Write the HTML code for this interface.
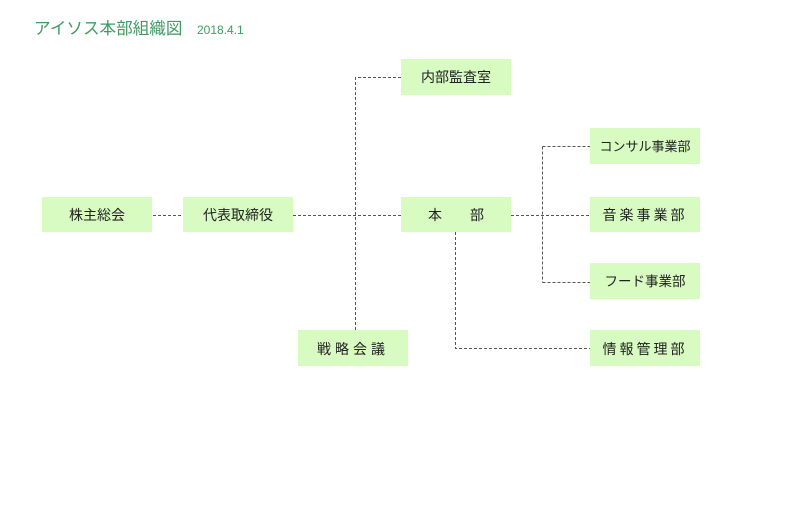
<!DOCTYPE html>
<html><head><meta charset="utf-8"><style>
body{margin:0;background:#fff;width:800px;height:521px;overflow:hidden}
svg text{font-family:"Liberation Sans","Noto Sans CJK JP",sans-serif}
</style></head><body>
<svg width="800" height="521" viewBox="0 0 800 521">
<text x="34" y="34" font-size="16.6" fill="#3f9a63">アイソス本部組織図</text>
<text x="197" y="34" font-size="12" fill="#3f9a63">2018.4.1</text>
<g stroke="#555" stroke-width="1" stroke-dasharray="3,2" fill="none">
<path d="M153 215.5H183M293 215.5H401M355.5 330V77.5H401M511 215.5H590M542.5 146.5V282.5M542.5 146.5H590M542.5 282.5H590M455.5 232V348.5H590"/>
</g>
<g fill="#d8fbc2">
<rect x="42" y="197" width="110" height="35"/>
<rect x="183" y="197" width="110" height="35"/>
<rect x="401" y="59" width="110" height="36"/>
<rect x="401" y="197" width="110" height="35"/>
<rect x="298" y="330" width="110" height="36"/>
<rect x="590" y="128" width="110" height="36"/>
<rect x="590" y="197" width="110" height="35"/>
<rect x="590" y="263" width="110" height="36"/>
<rect x="590" y="330" width="110" height="36"/>
</g>
<g font-size="14" fill="#222" text-anchor="middle">
<text x="97" y="220">株主総会</text>
<text x="238" y="220">代表取締役</text>
<text x="456" y="82">内部監査室</text>
<text x="456" y="220" xml:space="preserve">本　　部</text>
<text x="353" y="354" letter-spacing="4">戦略会議</text>
<text x="645" y="151" font-size="13">コンサル事業部</text>
<text x="645" y="220" letter-spacing="3">音楽事業部</text>
<text x="645" y="286" font-size="13.5">フード事業部</text>
<text x="645" y="354" letter-spacing="3">情報管理部</text>
</g>
</svg>
</body></html>
